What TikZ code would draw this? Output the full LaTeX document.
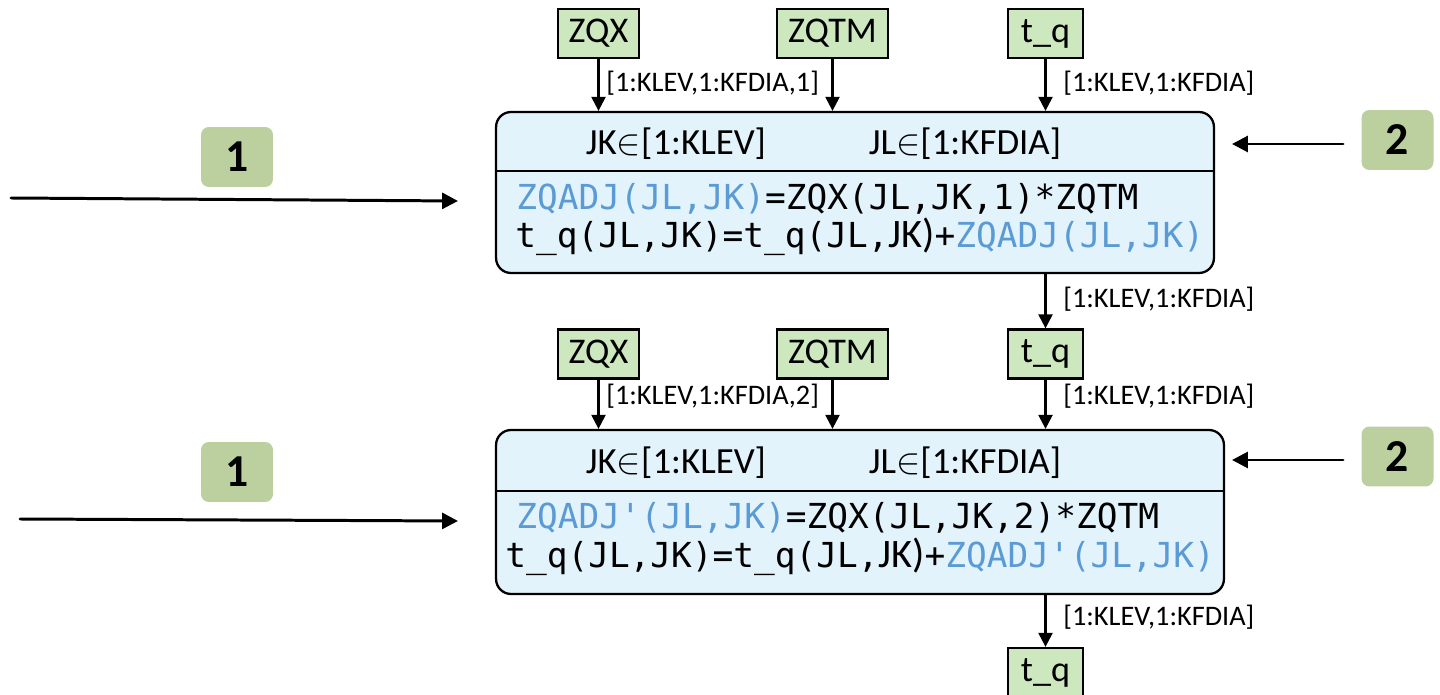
\documentclass[tikz,border=0pt]{standalone}
\usepackage{fontspec}
\setmainfont{Carlito}
\newfontfamily\codefont{DejaVu Sans Mono}
\usetikzlibrary{arrows.meta}
\definecolor{boxblue}{HTML}{E2F3FC}
\definecolor{inputgreen}{HTML}{CDE8BF}
\definecolor{markgreen}{HTML}{BBD09E}
\definecolor{codeblue}{HTML}{5B9BD5}

\begin{document}
\begin{tikzpicture}[x=0.02cm,y=-0.02cm,
  varbox/.style={draw=black, line width=1.3pt, fill=inputgreen, inner sep=0pt,
    minimum height=0.98cm, font=\fontsize{20.6}{24}\selectfont},
  loopbox/.style={draw=black, line width=1.3pt, fill=boxblue,
    rounded corners=8.5pt, inner sep=0pt},
  marker/.style={fill=markgreen, rounded corners=4.5pt, minimum width=1.44cm,
    minimum height=1.2cm, inner sep=0pt, font=\fontsize{26}{30}\selectfont\bfseries},
  flow/.style={line width=1.3pt, -{Triangle[length=8pt,width=8pt]}},
  feed/.style={line width=1.7pt, line cap=round, -{Triangle[length=9pt,width=9pt]}},
  dims/.style={font=\fontsize{16.1}{18}\selectfont, anchor=west, inner sep=0pt},
  head/.style={font=\fontsize{21}{24}\selectfont, anchor=base, inner sep=0pt},
  code/.style={font=\codefont\fontsize{19.6}{23}\selectfont, anchor=base west, inner sep=0pt},
  narrow/.style={font=\rmfamily\fontsize{23}{23}\selectfont},
]
\useasboundingbox (0,0) rectangle (1440,695);
\clip (0,0) rectangle (1440,695);

% loop nests
\node[loopbox, minimum width=14.36cm, minimum height=3.22cm] (box1) at (855,192.5) {};
\node[loopbox, minimum width=14.56cm, minimum height=3.28cm] (box2) at (860,512) {};
\coordinate (sep1) at (0,171);
\coordinate (sep2) at (0,491);
\draw[line width=1.3pt] (box1.west |- sep1) -- (box1.east |- sep1);
\draw[line width=1.3pt] (box2.west |- sep2) -- (box2.east |- sep2);

% loop ranges
\node[head] (jk1) at (676,155) {JK$\in$[1:KLEV]};
\node[head] (jl1) at (965,155) {JL$\in$[1:KFDIA]};
\node[head] (jk2) at (676,474) {JK$\in$[1:KLEV]};
\node[head] (jl2) at (965,474) {JL$\in$[1:KFDIA]};

% loop bodies
\newcommand{\narrowjk}{{\rmfamily\fontsize{23}{23}\selectfont JK)}}
\node[code] (c1a) at (516,210) {\textcolor{codeblue}{ZQADJ(JL,JK)}=ZQX(JL,JK,1)*ZQTM};
\node[code] (c1b) at (515,248) {t\_q(JL,JK)=t\_q(JL,\narrowjk+\textcolor{codeblue}{ZQADJ(JL,JK)}};
\node[code] (c2a) at (516,528) {\textcolor{codeblue}{ZQADJ\textquotesingle(JL,JK)}=ZQX(JL,JK,2)*ZQTM};
\node[code] (c2b) at (505,567) {t\_q(JL,JK)=t\_q(JL,\narrowjk+\textcolor{codeblue}{ZQADJ\textquotesingle(JL,JK)}};

% data containers
\node[varbox, minimum width=1.62cm] (zqxA) at (598.5,33.5) {ZQX};
\node[varbox, minimum width=2.22cm] (zqtmA) at (832.5,33.5) {ZQTM};
\node[varbox, minimum width=1.5cm] (tqA) at (1045.5,33.5) {t\_q};
\node[varbox, minimum width=1.62cm] (zqxB) at (598.5,354) {ZQX};
\node[varbox, minimum width=2.22cm] (zqtmB) at (832.5,354) {ZQTM};
\node[varbox, minimum width=1.5cm] (tqB) at (1045.5,354) {t\_q};
\node[varbox, minimum width=1.5cm] (tqC) at (1045.5,672.5) {t\_q};

% data movement
\draw[flow] (zqxA) -- (zqxA |- box1.north);
\draw[flow] (zqtmA) -- (zqtmA |- box1.north);
\draw[flow] (tqA) -- (tqA |- box1.north);
\draw[flow] (box1.south -| tqB) -- (tqB);
\draw[flow] (zqxB) -- (zqxB |- box2.north);
\draw[flow] (zqtmB) -- (zqtmB |- box2.north);
\draw[flow] (tqB) -- (tqB |- box2.north);
\draw[flow] (box2.south -| tqC) -- (tqC);

% subsets
\node[dims] (dA) at (606,83) {[1:KLEV,1:KFDIA,1]};
\node[dims] (dB) at (1063,83) {[1:KLEV,1:KFDIA]};
\node[dims] (dC) at (1063,299) {[1:KLEV,1:KFDIA]};
\node[dims] (dD) at (606,396) {[1:KLEV,1:KFDIA,2]};
\node[dims] (dE) at (1063,396) {[1:KLEV,1:KFDIA]};
\node[dims] (dF) at (1063,617) {[1:KLEV,1:KFDIA]};

% markers
\node[marker] (m1a) at (237,157) {1};
\node[marker] (m1b) at (237,472) {1};
\node[marker] (m2a) at (1397.5,140) {2};
\node[marker] (m2b) at (1397.5,456.5) {2};

\coordinate (f1a) at (11,198);
\coordinate (t1a) at (458,201);
\coordinate (f1b) at (20,519);
\coordinate (t1b) at (458,521);
\coordinate (f2a) at (1343,144);
\coordinate (t2a) at (1232,144);
\coordinate (f2b) at (1343,460);
\coordinate (t2b) at (1232,460);
\draw[feed] (f1a) -- (t1a);
\draw[feed] (f1b) -- (t1b);
\draw[feed] (f2a) -- (t2a);
\draw[feed] (f2b) -- (t2b);
\end{tikzpicture}
\end{document}
